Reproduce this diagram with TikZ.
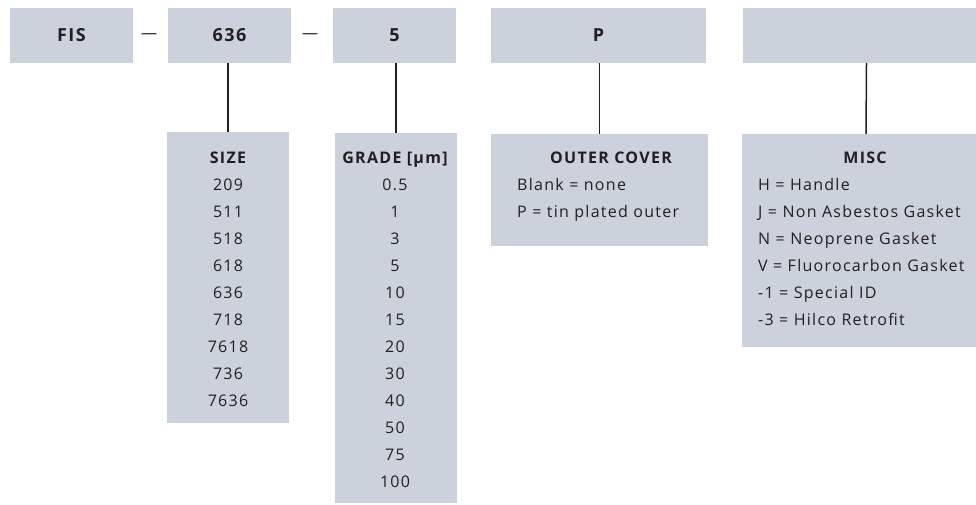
\documentclass[tikz,border=0pt]{standalone}
\usepackage{fontspec}
\setmainfont{Open Sans}[LetterSpace=8]
\usetikzlibrary{positioning}
\definecolor{boxgrey}{RGB}{203,210,219}
\definecolor{inkgrey}{RGB}{35,31,32}

\begin{document}
\begin{tikzpicture}[x=1pt,y=-1pt,text=inkgrey,
	codebox/.style={fill=boxgrey,inner sep=0pt,minimum height=55pt,font=\bfseries\fontsize{18}{20}\selectfont},
	listbox/.style={fill=boxgrey,inner sep=0pt,anchor=north},
	headtxt/.style={anchor=base,inner sep=0pt,font=\bfseries\fontsize{16}{18}\selectfont},
	itemtxt/.style={anchor=base,inner sep=0pt,font=\fontsize{16}{18}\selectfont},
	link/.style={draw=inkgrey,line width=1.5pt}]
	\useasboundingbox (0,0) rectangle (976,504);
	% code row
	\node[codebox,minimum width=123pt] (c_fis) at (71.5,35.5) {FIS};
	\node[codebox,minimum width=123pt] (c_size) at (229.5,35.5) {636};
	\node[codebox,minimum width=123pt] (c_grade) at (394.5,35.5) {5};
	\node[codebox,minimum width=215pt] (c_cover) at (598.5,35.5) {P};
	\node[codebox,minimum width=233pt] (c_misc) at (859.5,35.5) {};
	\node[inner sep=0pt,font=\fontsize{16}{18}\selectfont] (d_1) at (149,36) {—};
	\node[inner sep=0pt,font=\fontsize{16}{18}\selectfont] (d_2) at (310,36) {—};
	% option lists
	\node[listbox,minimum width=122pt,minimum height=291pt] (l_size) at (228,132) {};
	\node[listbox,minimum width=122pt,minimum height=370pt] (l_grade) at (396,133) {};
	\node[listbox,minimum width=217pt,minimum height=112pt] (l_cover) at (599.5,134) {};
	\node[listbox,minimum width=234pt,minimum height=213pt] (l_misc) at (859,134) {};
	\path[link]
		(c_size.south -| l_size.north) edge (l_size.north)
		(c_grade.south -| l_grade.north) edge (l_grade.north)
		(c_cover.south -| l_cover.north) edge (l_cover.north)
		([xshift=7pt]c_misc.south) edge ([xshift=7pt]l_misc.north);
	% texts
	\node[headtxt] (h_size) at (228,163) {SIZE};
	\foreach \t [count=\i] in {209,511,518,618,636,718,7618,736,7636}
		\node[itemtxt] (s_\i) at (228,163+27*\i) {\t};
	\node[headtxt] (h_grade) at (395,163) {GRADE [µm]};
	\foreach \t [count=\i] in {0.5,1,3,5,10,15,20,30,40,50,75,100}
		\node[itemtxt] (g_\i) at (395,163+27*\i) {\t};
	\node[headtxt] (h_cover) at (611,163) {OUTER COVER};
	\node[itemtxt,anchor=base west] (o_1) at (517,190) {Blank = none};
	\node[itemtxt,anchor=base west] (o_2) at (517,217) {P = tin plated outer};
	\node[headtxt] (h_misc) at (865,163) {MISC};
	\foreach \t [count=\i] in {H = Handle,J = Non Asbestos Gasket,N = Neoprene Gasket,V = Fluorocarbon Gasket,-1 = Special ID,-3 = Hilco Retrofit}
		\node[itemtxt,anchor=base west] (m_\i) at (758,163+27*\i) {\t};
\end{tikzpicture}
\end{document}
